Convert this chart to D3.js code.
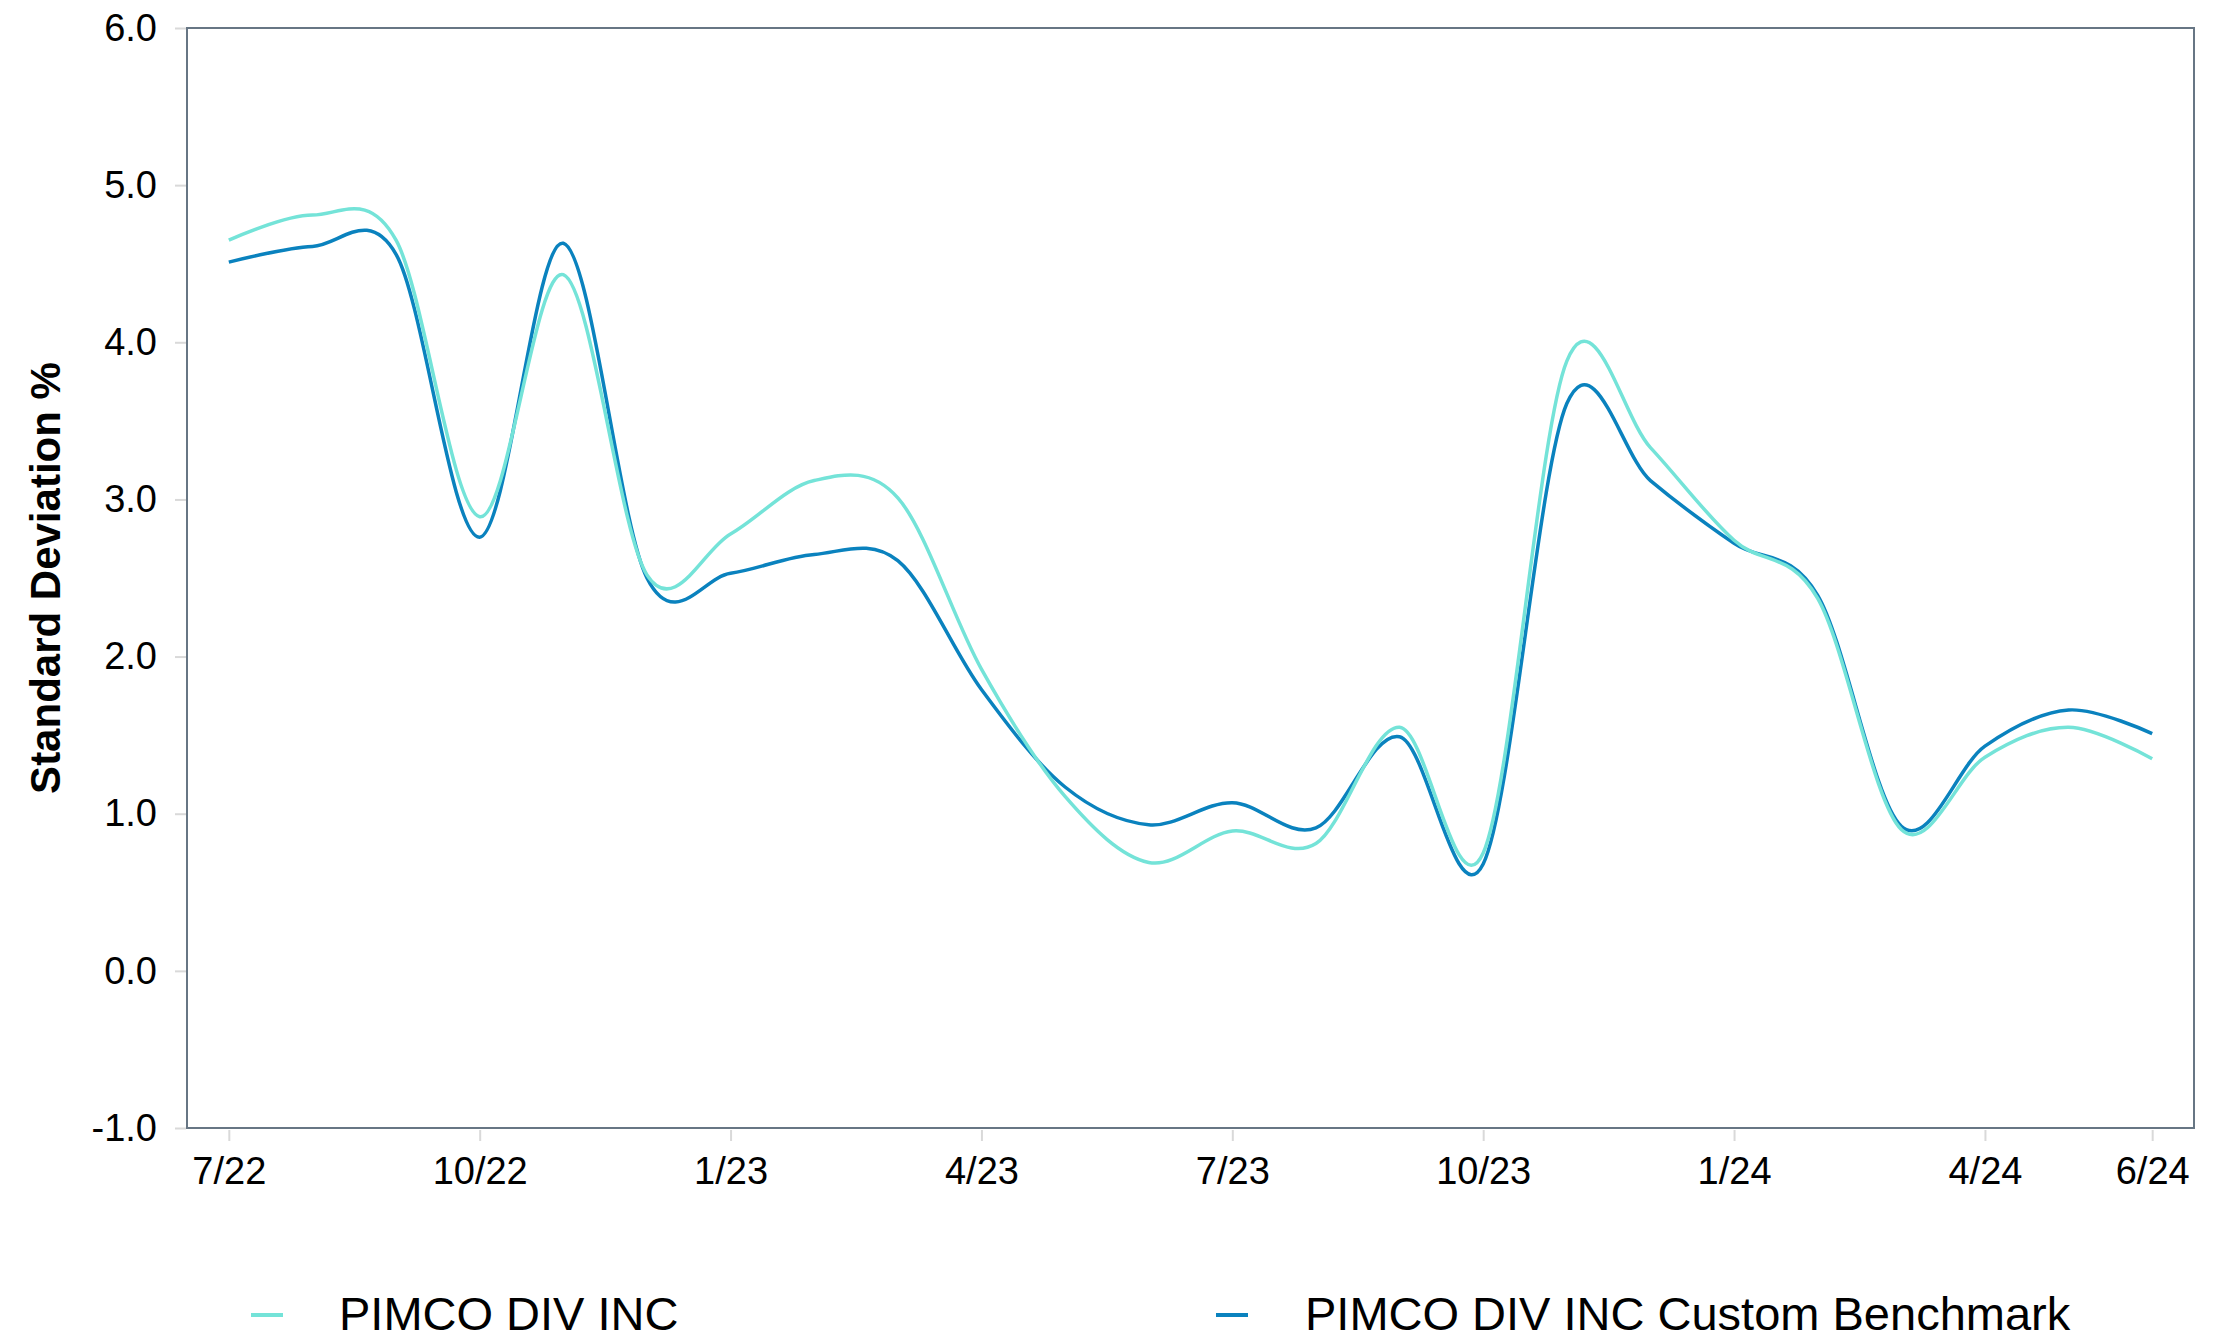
<!DOCTYPE html>
<html><head><meta charset="utf-8">
<script src="https://cdn.jsdelivr.net/npm/d3@7"></script>
<style>
body{margin:0;background:#fff}
svg{display:block}
text{font-family:"Liberation Sans",Arial,Helvetica,sans-serif}
</style>
</head><body>
<svg id="c" width="2238" height="1340"></svg>
<script>
const months = ["7/22","8/22","9/22","10/22","11/22","12/22","1/23","2/23","3/23","4/23","5/23","6/23",
                "7/23","8/23","9/23","10/23","11/23","12/23","1/24","2/24","3/24","4/24","5/24","6/24"];
const fundValues = [4.65,4.81,4.65,2.89,4.43,2.52,2.78,3.12,3.01,1.92,1.11,0.69,
                    0.89,0.81,1.55,0.75,3.88,3.33,2.74,2.37,0.90,1.36,1.55,1.35];
const benchValues = [4.51,4.61,4.56,2.76,4.63,2.50,2.53,2.65,2.61,1.79,1.17,0.93,
                     1.07,0.91,1.49,0.68,3.61,3.12,2.72,2.39,0.92,1.43,1.66,1.51];
const xTickLabels = ["7/22","10/22","1/23","4/23","7/23","10/23","1/24","4/24","6/24"];
const yTickValues = [-1,0,1,2,3,4,5,6];
const seriesNames = ["PIMCO DIV INC","PIMCO DIV INC Custom Benchmark"];
const seriesColors = ["#74E3D8","#0A82BE"];
const yTitle = "Standard Deviation %";

const svg = d3.select("#c");
const L = 187, R = 2194, T = 28, B = 1128;

const x = d3.scalePoint().domain(months).range([L, R]).padding(0.5);
const y = d3.scaleLinear().domain([-1, 6]).range([B, T]);

// Y axis ticks
const gy = svg.append("g").attr("transform", `translate(${L - 1},0)`)
  .call(d3.axisLeft(y).tickValues(yTickValues).tickSize(11).tickPadding(18)
        .tickFormat(d => d.toFixed(1)));
gy.select(".domain").remove();
gy.selectAll(".tick line").attr("stroke", "#d9d9d9").attr("stroke-width", 2);
gy.selectAll(".tick text").attr("font-size", 38).attr("fill", "#000")
  .style("font-family", '"Liberation Sans",Arial,sans-serif');

// X axis ticks
const gx = svg.append("g").attr("transform", `translate(0,${B + 2})`)
  .call(d3.axisBottom(x).tickValues(xTickLabels).tickSize(11).tickPadding(16));
gx.select(".domain").remove();
gx.selectAll(".tick line").attr("stroke", "#d9d9d9").attr("stroke-width", 2);
gx.selectAll(".tick text").attr("font-size", 38).attr("fill", "#000")
  .style("font-family", '"Liberation Sans",Arial,sans-serif');

// Lines
const line = d3.line().x((d, i) => x(months[i])).y(d => y(d)).curve(d3.curveCardinal.tension(0));
const series = [benchValues, fundValues];
const cols = [seriesColors[1], seriesColors[0]];
series.forEach((s, k) => {
  svg.append("path").datum(s).attr("d", line)
    .attr("fill", "none").attr("stroke", cols[k]).attr("stroke-width", 3.5)
    .attr("stroke-linejoin", "round");
});

// Plot frame
svg.append("rect").attr("x", L).attr("y", T).attr("width", R - L).attr("height", B - T)
  .attr("fill", "none").attr("stroke", "#677684").attr("stroke-width", 2);

// Y title
svg.append("text").attr("transform", `translate(60,${(T + B) / 2}) rotate(-90)`)
  .attr("text-anchor", "middle").attr("font-size", 42).attr("font-weight", "bold")
  .attr("fill", "#000").text(yTitle);

// Legend
const legendPos = [{mx: 251, tx: 339}, {mx: 1216, tx: 1305}];
seriesNames.forEach((name, k) => {
  const g = svg.append("g");
  g.append("line").attr("x1", legendPos[k].mx).attr("x2", legendPos[k].mx + 32)
    .attr("y1", 1315).attr("y2", 1315).attr("stroke", seriesColors[k]).attr("stroke-width", 4);
  g.append("text").attr("x", legendPos[k].tx).attr("y", 1330).attr("font-size", 47)
    .attr("fill", "#000").text(name);
});
</script>
</body></html>
